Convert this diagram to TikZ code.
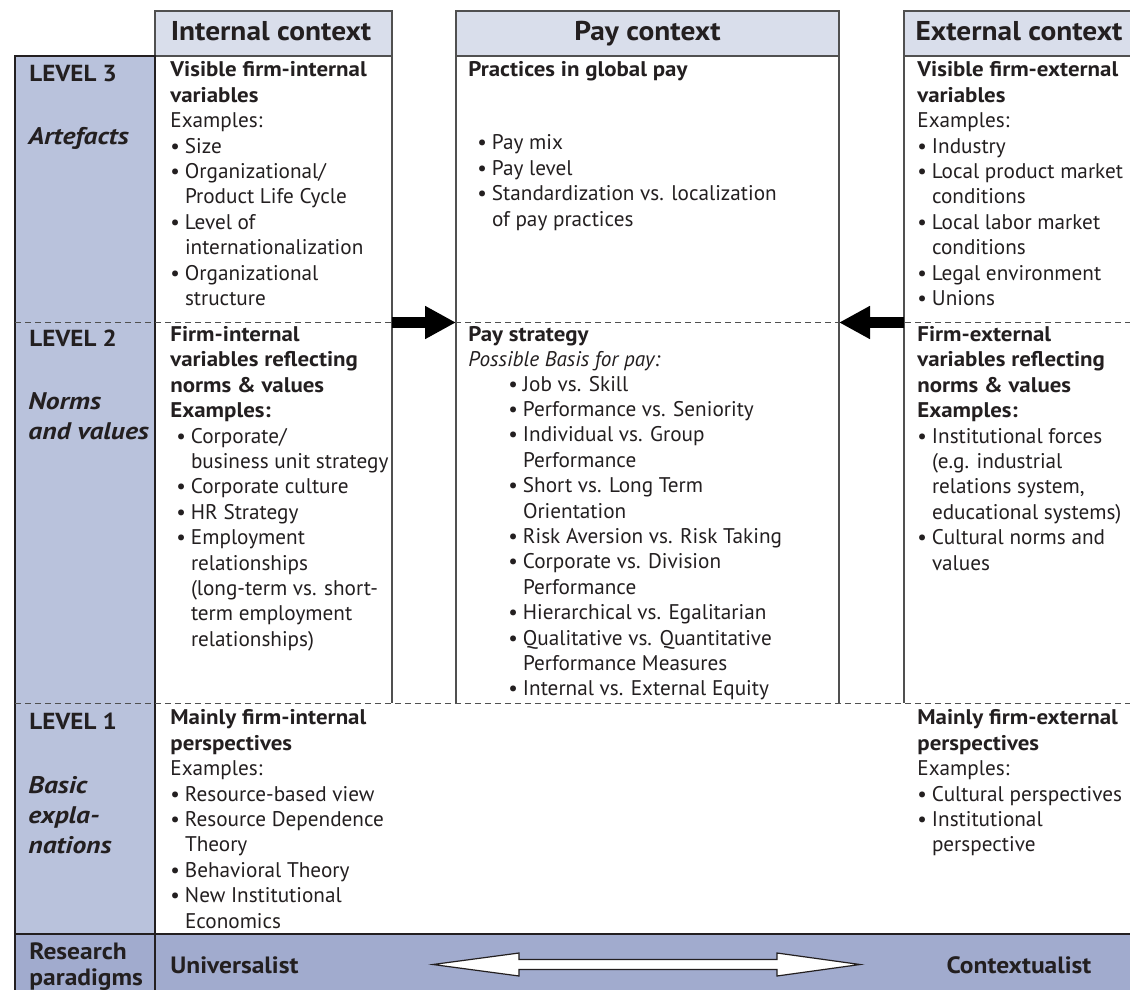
\documentclass[tikz,border=0pt]{standalone}
\usepackage{fontspec}
\setmainfont{PT Sans}[BoldFeatures={FakeStretch=1.08},BoldItalicFeatures={FakeStretch=1.15}]
\usepackage{tikz}
\usetikzlibrary{arrows.meta,fit}
\definecolor{levelblue}{HTML}{B9C2DC}
\definecolor{paradigmblue}{HTML}{A1ABCE}
\definecolor{headgray}{HTML}{D9DEEB}
\definecolor{framegray}{HTML}{505050}
\definecolor{inkblack}{HTML}{231F20}
\newcommand{\pbul}[1][0pt]{\hspace*{#1}\makebox[7.3pt][l]{\textbullet}}
\newcommand{\pind}[1][0pt]{\hspace*{\dimexpr #1+7.3pt\relax}}
\tikzset{
  colhead/.style={draw=framegray,fill=headgray,line width=.65pt,inner sep=0pt,outer sep=0pt},
  headtext/.style={anchor=base,inner sep=0pt,text=inkblack,font=\fontsize{13.6}{16}\selectfont\bfseries},
  colbody/.style={inner sep=0pt,outer sep=0pt},
  levelcol/.style={draw=inkblack,fill=levelblue,line width=.75pt,inner sep=0pt,outer sep=0pt},
  bandcell/.style={draw=inkblack,fill=paradigmblue,line width=.75pt,inner sep=0pt,outer sep=0pt},
  frame/.style={draw=framegray,line width=.65pt},
  celltext/.style={anchor=north west,align=left,inner sep=0pt,text=inkblack,font=\fontsize{10.6}{12.7}\selectfont},
  leveltext/.style={anchor=north west,align=left,inner sep=0pt,text=inkblack,font=\fontsize{11.6}{14.75}\selectfont\bfseries},
  levelname/.style={leveltext,font=\fontsize{12}{14.9}\selectfont\bfseries\itshape},
  bandtext/.style={anchor=north west,align=left,inner sep=0pt,text=inkblack,font=\fontsize{11.8}{13}\selectfont\bfseries},
  levelsep/.style={draw=framegray,line width=.5pt,dash pattern=on 3pt off 2pt},
  pushflow/.style={-{Triangle[length=15.5pt,width=15.5pt]},line width=5.2pt,draw=black},
  spanarrow/.style={draw=inkblack,fill=white,line width=.6pt},
}

\begin{document}
\begin{tikzpicture}[x=0.5pt,y=-0.5pt]
	\useasboundingbox (0,0) rectangle (1130,990);
	\clip (0,0) rectangle (1130,990);
	\fill[white] (0,0) rectangle (1130,990);
	\node[colhead,fit={(155,11) (392,56)}] (inthead) {};
	\node[colhead,fit={(456,11) (839,56)}] (payhead) {};
	\node[colhead,fit={(904,11) (1134,56)}] (exthead) {};
	\node[headtext] (inttitle) at (271,40.5) {Internal context};
	\node[headtext] (paytitle) at (647.5,40.5) {Pay context};
	\node[headtext] (exttitle) at (1019,40.5) {External context};
	\node[colbody,fit={(155,56) (392,703)}] (intbody) {};
	\node[colbody,fit={(456,56) (839,703)}] (paybody) {};
	\node[colbody,fit={(904,56) (1134,703)}] (extbody) {};
	\draw[frame] (intbody.north east) -- (intbody.south east);
	\draw[frame] (paybody.north west) -- (paybody.south west);
	\draw[frame] (paybody.north east) -- (paybody.south east);
	\draw[frame] (extbody.north west) -- (extbody.south west);
	\node[levelcol,fit={(15,56) (155,934)}] (levelcol) {};
	\node[bandcell,fit={(15,934) (155,994)}] (bandleft) {};
	\node[bandcell,fit={(155,934) (1134,994)}] (bandright) {};
	\coordinate (lv2) at (0,322.5);
	\coordinate (lv1) at (0,703);
	\draw[levelsep] (levelcol.west |- lv2) -- (1130,322.5);
	\draw[levelsep] (levelcol.west |- lv1) -- (1130,703);
	\draw[pushflow] (intbody.east |- lv2) -- (paybody.west |- lv2);
	\draw[pushflow] (extbody.west |- lv2) -- (paybody.east |- lv2);
	\draw[spanarrow] (433,964.5) -- (519,953) -- (519,959.5) -- (777,959.5) -- (777,953) -- (860,964.5)
		-- (777,976) -- (777,969.5) -- (519,969.5) -- (519,976) -- cycle;
	\node[leveltext] (lev3) at (29,65) {LEVEL 3};
	\node[levelname] (lev3name) at (28,127) {Artefacts};
	\node[leveltext] (lev2) at (29,330) {LEVEL 2};
	\node[levelname] (lev2name) at (28,392) {Norms\\and values};
	\node[leveltext] (lev1) at (29,713) {LEVEL 1};
	\node[levelname] (lev1name) at (28,776) {Basic\\expla-\\nations};
	\node[bandtext] (paradigms) at (29,942) {Research\\paradigms};
	\node[bandtext] (univ) at (170,956) {Universalist};
	\node[bandtext,anchor=north] (contx) at (1019,956) {Contextualist};
	\node[celltext] (intL3) at (170,61.5) {\textbf{Visible firm-internal}\\\textbf{variables}\\Examples:\\\pbul Size\\\pbul Organizational/\\\pind Product Life Cycle\\\pbul Level of\\\pind internationalization\\\pbul Organizational\\\pind structure};
	\node[celltext] (payL3) at (468,61.5) {\textbf{Practices in global pay}};
	\node[celltext] (payL3list) at (477,134.5) {\pbul Pay mix\\\pbul Pay level\\\pbul Standardization vs. localization\\\pind of pay practices};
	\node[celltext] (extL3) at (917,61.5) {\textbf{Visible firm-external}\\\textbf{variables}\\Examples:\\\pbul Industry\\\pbul Local product market\\\pind conditions\\\pbul Local labor market\\\pind conditions\\\pbul Legal environment\\\pbul Unions};
	\node[celltext] (intL2) at (170,326) {\textbf{Firm-internal}\\\textbf{variables reflecting}\\\textbf{norms \& values}\\\textbf{Examples:}\\\pbul[3pt]Corporate/\\\pind[3pt]business unit strategy\\\pbul[3pt]Corporate culture\\\pbul[3pt]HR Strategy\\\pbul[3pt]Employment\\\pind[3pt]relationships\\\pind[3pt](long-term vs. short-\\\pind[3pt]term employment\\\pind[3pt]relationships)};
	\node[celltext] (payL2) at (468,326) {\textbf{Pay strategy}\\\textit{Possible Basis for pay:}};
	\node[celltext] (payL2list) at (508,375.5) {\pbul Job vs. Skill\\\pbul Performance vs. Seniority\\\pbul Individual vs. Group\\\pind Performance\\\pbul Short vs. Long Term\\\pind Orientation\\\pbul Risk Aversion vs. Risk Taking\\\pbul Corporate vs. Division\\\pind Performance\\\pbul Hierarchical vs. Egalitarian\\\pbul Qualitative vs. Quantitative\\\pind Performance Measures\\\pbul Internal vs. External Equity};
	\node[celltext] (extL2) at (917,326) {\textbf{Firm-external}\\\textbf{variables reflecting}\\\textbf{norms \& values}\\\textbf{Examples:}\\\pbul Institutional forces\\\pind (e.g. industrial\\\pind relations system,\\\pind educational systems)\\\pbul Cultural norms and\\\pind values};
	\node[celltext] (intL1) at (170,709.5) {\textbf{Mainly firm-internal}\\\textbf{perspectives}\\Examples:\\\pbul Resource-based view\\\pbul Resource Dependence\\\pind Theory\\\pbul Behavioral Theory\\\pbul New Institutional\\\pind Economics};
	\node[celltext] (extL1) at (917,709.5) {\textbf{Mainly firm-external}\\\textbf{perspectives}\\Examples:\\\pbul Cultural perspectives\\\pbul Institutional\\\pind perspective};
\end{tikzpicture}
\end{document}
